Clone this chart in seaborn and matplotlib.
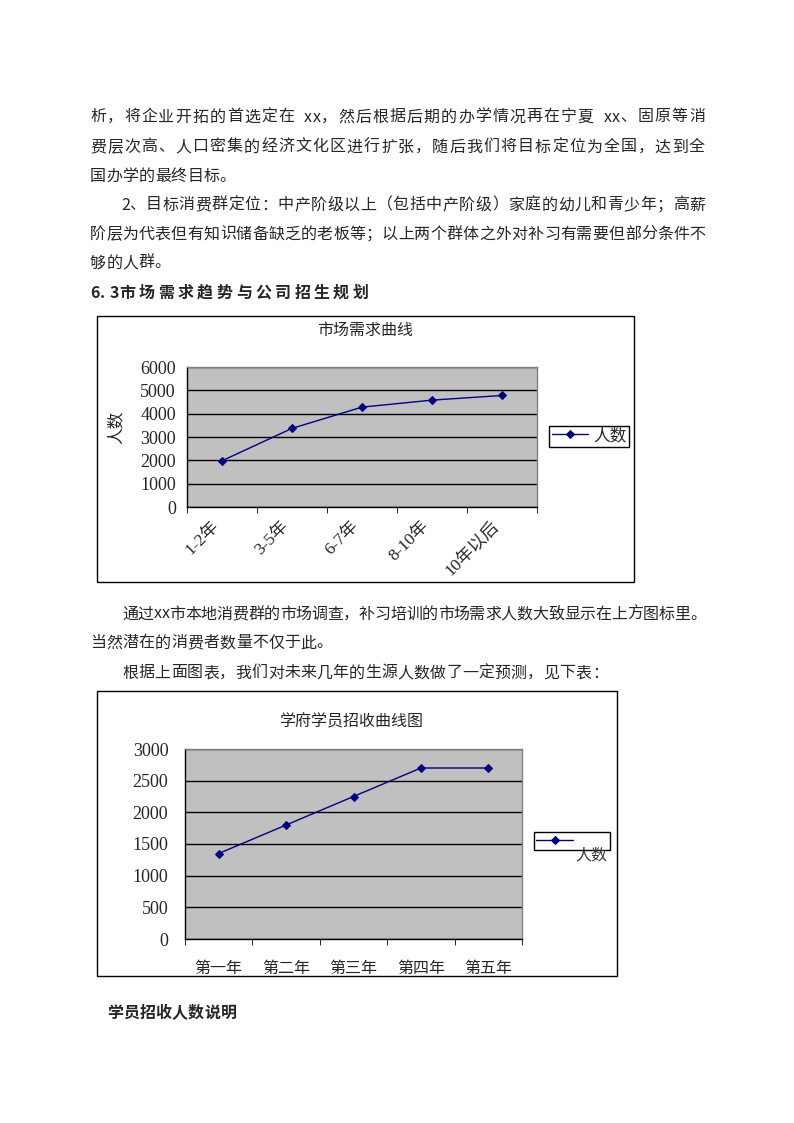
import pandas as pd
import seaborn as sns
import matplotlib.pyplot as plt
from matplotlib.patches import Rectangle

# chart data
demand_periods = ["1-2年", "3-5年", "6-7年", "8-10年", "10年以后"]
demand_counts = [1980, 3370, 4280, 4580, 4780]

enroll_years = ["第一年", "第二年", "第三年", "第四年", "第五年"]
enroll_counts = [1350, 1800, 2250, 2700, 2700]

sns.set_style("white")
plt.rcParams['font.family'] = ['Liberation Serif', 'Noto Sans CJK SC', 'DejaVu Sans']

W, H = 794, 1123
fig = plt.figure(figsize=(W / 100, H / 100), dpi=100)


def fx(x):
    return x / W


def fy(y):
    return 1 - y / H


def put_line(s, x0, y, x1=None, size=11.5, weight='normal'):
    # place characters one by one, CJK full width, ascii half width
    units = [0.5 if ord(c) < 128 else 1.0 for c in s]
    total = sum(units)
    unit = (x1 - x0) / total if x1 else 16.2
    pos = x0
    for c, u in zip(s, units):
        fig.text(fx(pos), fy(y), c, ha='left', va='center', fontsize=size,
                 weight=weight, family=['Noto Sans CJK SC', 'DejaVu Sans'])
        pos += u * unit


# body text
put_line("析，将企业开拓的首选定在 xx，然后根据后期的办学情况再在宁夏 xx、固原等消", 90, 117, 706)
put_line("费层次高、人口密集的经济文化区进行扩张，随后我们将目标定位为全国，达到全", 90, 147, 706)
put_line("国办学的最终目标。", 90, 176)
put_line("2、目标消费群定位：中产阶级以上（包括中产阶级）家庭的幼儿和青少年；高薪", 121, 205, 706)
put_line("阶层为代表但有知识储备缺乏的老板等；以上两个群体之外对补习有需要但部分条件不", 90, 234, 706)
put_line("够的人群。", 90, 263)
put_line("6.3市场需求趋势与公司招生规划", 90, 293, 372, weight='bold')
put_line("通过xx市本地消费群的市场调查，补习培训的市场需求人数大致显示在上方图标里。", 122, 614, 706)
put_line("当然潜在的消费者数量不仅于此。", 90, 643)
put_line("根据上面图表，我们对未来几年的生源人数做了一定预测，见下表：", 122, 673)
put_line("学员招收人数说明", 107, 1013, weight='bold')

line_color = '#000080'


def style_axes(ax, labels, ymax, ystep):
    ax.set_facecolor('#C0C0C0')
    ax.set_xlim(-0.5, len(labels) - 0.5)
    ax.set_ylim(0, ymax)
    ax.set_yticks(range(0, ymax + 1, ystep))
    ax.set_xticks(range(len(labels)))
    ax.set_xticks([i - 0.5 for i in range(len(labels) + 1)], minor=True)
    ax.yaxis.grid(True, color='black', linewidth=1)
    ax.xaxis.grid(False)
    ax.set_axisbelow(True)
    ax.tick_params(axis='x', which='major', length=0)
    ax.tick_params(axis='x', which='minor', length=4, direction='out', color='black', bottom=True)
    ax.tick_params(axis='y', length=0, labelsize=13)
    for side in ['left', 'bottom']:
        ax.spines[side].set_color('black')
        ax.spines[side].set_linewidth(1)
    for side in ['top', 'right']:
        ax.spines[side].set_color('#808080')
        ax.spines[side].set_linewidth(1)
    ax.set_xlabel('')
    ax.set_ylabel('')


# chart 1: 市场需求曲线
fig.add_artist(Rectangle((fx(97), fy(582)), (634 - 97) / W, (582 - 316) / H,
                         transform=fig.transFigure, fill=False, edgecolor='black', lw=1))
ax1 = fig.add_axes([fx(187), fy(507), 350 / W, 140 / H])
df1 = pd.DataFrame({'period': demand_periods, 'count': demand_counts})
sns.lineplot(data=df1, x='period', y='count', ax=ax1, color=line_color, marker='D',
             markersize=4, markeredgecolor=line_color, linewidth=1, sort=False, label='人数')
style_axes(ax1, demand_periods, 6000, 1000)
ax1.set_xticklabels(demand_periods, rotation=45, ha='right', va='top', fontsize=12.5)
ax1.tick_params(axis='x', which='major', pad=8)
ax1.tick_params(axis='y', pad=8)
fig.text(fx(365), fy(331), '市场需求曲线', ha='center', va='center', fontsize=11.5)
fig.text(fx(117), fy(427), '人数', ha='center', va='center', rotation=90, fontsize=12)
leg1 = ax1.legend(loc='center left', bbox_to_anchor=(fx(549), fy(436)), bbox_transform=fig.transFigure,
                  frameon=True, fancybox=False, edgecolor='black', framealpha=1,
                  borderpad=0.15, handlelength=2.2, handletextpad=0.3, fontsize=12,
                  borderaxespad=0)
leg1.get_frame().set_linewidth(1)

# chart 2: 学府学员招收曲线图
fig.add_artist(Rectangle((fx(97), fy(976)), (617 - 97) / W, (976 - 691) / H,
                         transform=fig.transFigure, fill=False, edgecolor='black', lw=1))
ax2 = fig.add_axes([fx(185), fy(939), 337 / W, 190 / H])
df2 = pd.DataFrame({'year': enroll_years, 'count': enroll_counts})
sns.lineplot(data=df2, x='year', y='count', ax=ax2, color=line_color, marker='D',
             markersize=4, markeredgecolor=line_color, linewidth=1, sort=False, label='\u3000\u3000')
style_axes(ax2, enroll_years, 3000, 500)
ax2.set_xticklabels(enroll_years, fontsize=11.5)
ax2.tick_params(axis='x', which='major', pad=16)
ax2.tick_params(axis='y', pad=12)
fig.text(fx(351), fy(722), '学府学员招收曲线图', ha='center', va='center', fontsize=11.5)
leg2 = ax2.legend(loc='center left', bbox_to_anchor=(fx(534), fy(841)), bbox_transform=fig.transFigure,
                  frameon=True, fancybox=False, edgecolor='black', framealpha=1,
                  borderpad=0.15, handlelength=2.4, handletextpad=0.3, fontsize=11,
                  borderaxespad=0)
leg2.get_frame().set_linewidth(1)
fig.text(fx(591), fy(855), '人数', ha='center', va='center', fontsize=11.5, color='#333333')

fig.savefig('out.png', dpi=100)
